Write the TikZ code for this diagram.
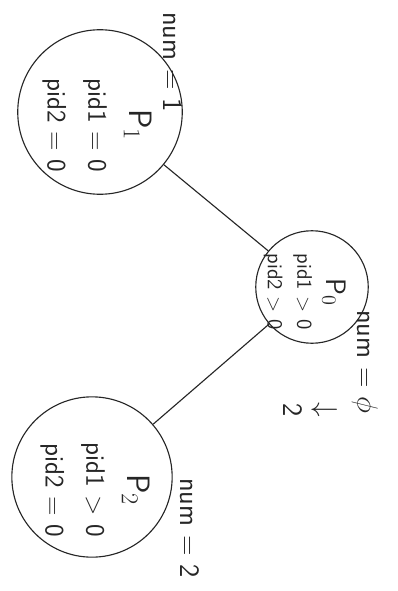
\documentclass[tikz,border=0pt]{standalone}
\usepackage{tikz}
\usetikzlibrary{positioning}

\begin{document}
\begin{tikzpicture}[x=0.025cm, y=-0.025cm, line width=0.8pt,
    proc/.style={draw=black!85, circle, inner sep=0pt},
    txt/.style={rotate=-90, align=center, text=black!85,
      font=\sffamily\fontsize{19}{29}\selectfont},
    smalltxt/.style={txt, font=\sffamily\fontsize{15}{21}\selectfont},
    numlbl/.style={rotate=-90, align=center, text=black!85,
      font=\sffamily\fontsize{20}{24}\selectfont}]
    % Page frame (pixel grid of the scan)
    \useasboundingbox (0,0) rectangle (398,591);

    % Processes
    \node[proc, minimum size=117pt] (p1) at (100,112) {};
    \node[proc, minimum size=80pt] (p0) at (312,287) {};
    \node[proc, minimum size=114pt] (p2) at (92,477) {};

    % Fork tree
    \draw[black!85] (p1) -- (p0);
    \draw[black!85] (p0) -- (p2);

    % Texts inside the processes
    \node[txt] (p1txt) at (97,125) {{\fontsize{23}{29}\selectfont P$_1$}\\pid1 = 0\\pid2 = 0};
    \node[smalltxt] (p0txt) at (305,292) {{\fontsize{20}{21}\selectfont P$_0$}\\pid1 > 0\\pid2 > 0};
    \node[txt] (p2txt) at (95,490) {{\fontsize{23}{29}\selectfont P$_2$}\\pid1 > 0\\pid2 = 0};

    % Values of num
    \node[numlbl] (num1) at (173,62) {num = 1};
    \node[numlbl] (num0) at (365,362) {num = $\phi$};
    \node[numlbl] (num0b) at (310,410) {$\downarrow$\\2};
    \node[numlbl] (num2) at (190,528) {num = 2};
\end{tikzpicture}
\end{document}
